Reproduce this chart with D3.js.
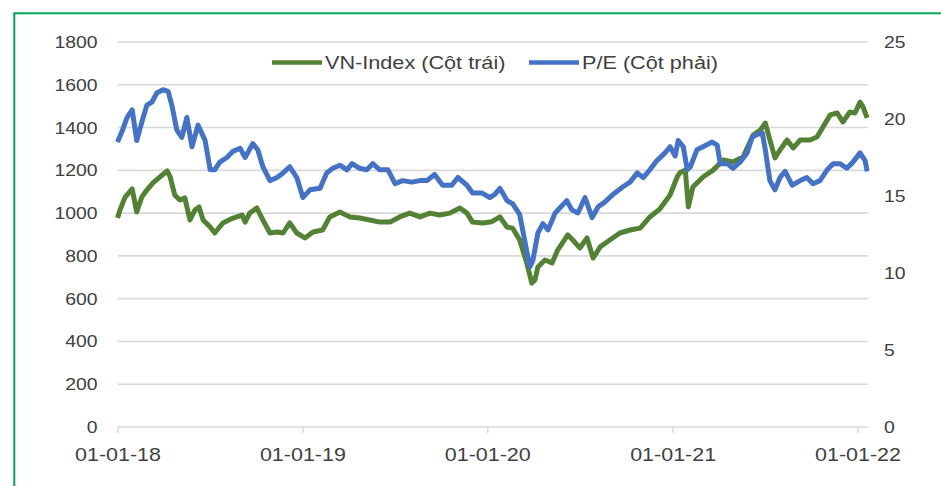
<!DOCTYPE html>
<html>
<head>
<meta charset="utf-8">
<script src="https://cdn.jsdelivr.net/npm/d3@7"></script>
<style>
body{margin:0;background:#fff;}
text{font-family:"Liberation Sans",Arial,sans-serif;fill:#404040;}
</style>
</head>
<body>
<div id="chart"></div>
<script>
// VN-Index (left axis)
const vnDates = ["2018-01-01","2018-01-06","2018-01-16","2018-01-30","2018-02-08","2018-02-18","2018-02-28","2018-03-12","2018-03-26","2018-04-09",
  "2018-04-15","2018-04-24","2018-05-04","2018-05-14","2018-05-24","2018-06-03","2018-06-11","2018-06-19","2018-07-03","2018-07-12",
  "2018-07-28","2018-08-17","2018-09-04","2018-09-10","2018-09-19","2018-10-03","2018-10-15","2018-10-29","2018-11-12","2018-11-24",
  "2018-12-07","2018-12-21",
  "2019-01-06","2019-01-22","2019-02-10","2019-02-24","2019-03-16","2019-04-05","2019-04-24","2019-05-14","2019-06-03","2019-06-23",
  "2019-07-12","2019-08-01","2019-08-21","2019-09-10","2019-09-29","2019-10-19","2019-11-08","2019-11-22","2019-12-03","2019-12-23",
  "2020-01-10","2020-01-26","2020-02-09","2020-02-20","2020-03-05","2020-03-19","2020-03-29","2020-04-04","2020-04-10","2020-04-24",
  "2020-05-08","2020-05-19","2020-06-08","2020-06-18","2020-07-02","2020-07-16","2020-07-28","2020-08-11","2020-08-30","2020-09-19",
  "2020-10-09","2020-10-29","2020-11-17","2020-12-07","2020-12-27",
  "2021-01-10","2021-01-16","2021-01-26","2021-02-01","2021-02-10","2021-03-02","2021-03-22","2021-04-11","2021-04-30","2021-05-20",
  "2021-06-09","2021-06-23","2021-07-03","2021-07-12","2021-07-22","2021-08-01","2021-08-15","2021-08-27","2021-09-10","2021-09-29",
  "2021-10-13","2021-10-25","2021-11-08","2021-11-22","2021-12-03","2021-12-17","2021-12-27",
  "2022-01-06","2022-01-12","2022-01-20"];
const vnValues = [977,1015,1075,1113,1005,1075,1108,1141,1169,1197,
  1169,1085,1061,1071,968,1015,1029,968,935,907,
  954,977,991,958,1000,1024,968,907,912,907,
  954,907,
  884,912,921,982,1005,982,977,968,958,958,
  982,1000,982,1000,991,1000,1024,1000,958,954,
  960,982,935,930,874,767,673,687,748,781,
  767,827,898,874,837,884,790,842,874,907,
  921,930,982,1020,1085,
  1169,1190,1201,1029,1122,1169,1201,1248,1239,1262,
  1365,1388,1421,1342,1258,1295,1342,1304,1342,1342,
  1356,1403,1459,1468,1426,1473,1468,
  1519,1496,1445];

// P/E (right axis)
const peDates = ["2018-01-01","2018-01-10","2018-01-20","2018-01-30","2018-02-08","2018-02-18","2018-02-28","2018-03-10","2018-03-20","2018-04-01",
  "2018-04-11","2018-04-19","2018-04-28","2018-05-08","2018-05-18","2018-05-28","2018-06-09","2018-06-23","2018-07-03","2018-07-12",
  "2018-07-22","2018-08-05","2018-08-17","2018-08-31","2018-09-10","2018-09-25","2018-10-05","2018-10-15","2018-10-29","2018-11-12",
  "2018-11-24","2018-12-07","2018-12-21",
  "2019-01-02","2019-01-16","2019-02-05","2019-02-18","2019-03-02","2019-03-16","2019-03-30","2019-04-09","2019-04-24","2019-05-08",
  "2019-05-20","2019-06-03","2019-06-19","2019-07-03","2019-07-18","2019-08-05","2019-08-21","2019-09-04","2019-09-19","2019-10-05",
  "2019-10-23","2019-11-04","2019-11-22","2019-12-03","2019-12-21",
  "2020-01-06","2020-01-16","2020-01-26","2020-02-09","2020-02-20","2020-03-05","2020-03-15","2020-03-25","2020-03-31","2020-04-10",
  "2020-04-20","2020-04-30","2020-05-14","2020-06-06","2020-06-16","2020-06-28","2020-07-12","2020-07-26","2020-08-07","2020-08-20",
  "2020-09-05","2020-09-25","2020-10-09","2020-10-23","2020-11-04","2020-11-17","2020-12-01","2020-12-17","2020-12-27",
  "2021-01-06","2021-01-12","2021-01-22","2021-01-30","2021-02-05","2021-02-18","2021-03-02","2021-03-20","2021-03-30","2021-04-05",
  "2021-04-19","2021-04-30","2021-05-14","2021-05-28","2021-06-07","2021-06-17","2021-06-27","2021-07-03","2021-07-12","2021-07-22",
  "2021-08-01","2021-08-11","2021-08-25","2021-09-10","2021-09-23","2021-10-05","2021-10-19","2021-11-02","2021-11-14","2021-11-27",
  "2021-12-11","2021-12-23",
  "2022-01-06","2022-01-16","2022-01-20"];
const peValues = [18.5,19.2,20.1,20.6,18.6,19.8,20.9,21.1,21.7,21.9,
  21.8,20.8,19.3,18.8,20.1,18.2,19.6,18.6,16.7,16.7,
  17.2,17.5,17.9,18.1,17.5,18.4,18.0,16.9,16.0,16.2,
  16.5,16.9,16.2,
  14.9,15.4,15.5,16.5,16.8,17.0,16.7,17.1,16.8,16.7,
  17.1,16.7,16.7,15.8,16.0,15.9,16.0,16.0,16.4,15.7,
  15.7,16.2,15.7,15.2,15.2,
  14.9,15.1,15.5,14.7,14.5,13.8,12.1,10.4,10.8,12.6,
  13.2,12.8,13.9,14.7,14.1,13.9,14.9,13.6,14.3,14.6,
  15.1,15.6,15.9,16.5,16.2,16.7,17.3,17.8,18.2,
  17.6,18.6,18.2,16.7,16.9,18.0,18.2,18.5,18.3,17.1,
  17.1,16.8,17.2,17.8,18.8,19.0,19.1,18.0,16.0,15.4,
  16.2,16.6,15.7,16.0,16.2,15.8,16.0,16.7,17.1,17.1,
  16.8,17.2,
  17.8,17.3,16.6];

const xTicks = ["2018-01-01","2019-01-01","2020-01-01","2021-01-01","2022-01-01"];
const leftTicks = [0,200,400,600,800,1000,1200,1400,1600,1800];
const rightTicks = [0,5,10,15,20,25];
const seriesNames = ["VN-Index (Cột trái)","P/E (Cột phải)"];
const seriesColors = ["#548235","#4472c4"];

const width = 941, height = 486;
const plotLeft = 117.5, plotRight = 868, plotTop = 42, plotBottom = 427;

const parse = d3.timeParse("%Y-%m-%d");
const vn = vnDates.map((d,i)=>({date:parse(d), value:vnValues[i]}));
const pe = peDates.map((d,i)=>({date:parse(d), value:peValues[i]}));

const svg = d3.select("#chart").append("svg")
  .attr("width", width)
  .attr("height", height);

// frame
svg.append("rect")
  .attr("x", 14.3).attr("y", 13.3)
  .attr("width", 1000).attr("height", 1000)
  .attr("fill", "none")
  .attr("stroke", "#00a650")
  .attr("stroke-width", 2);

const x = d3.scaleTime()
  .domain([parse(xTicks[0]), parse(xTicks[4])])
  .range([plotLeft, 857.5]);
const yLeft = d3.scaleLinear().domain([0,1800]).range([plotBottom, plotTop]);
const yRight = d3.scaleLinear().domain([0,25]).range([plotBottom, plotTop]);

// stretch text a bit horizontally, the source is wide
function stretch(sel, k){
  sel.each(function(){
    const w = this.getComputedTextLength();
    d3.select(this).attr("textLength", w*k).attr("lengthAdjust","spacingAndGlyphs");
  });
}

// gridlines
svg.append("g").selectAll("line")
  .data(leftTicks)
  .join("line")
  .attr("x1", plotLeft).attr("x2", plotRight)
  .attr("y1", d=>yLeft(d)).attr("y2", d=>yLeft(d))
  .attr("stroke", "#d9d9d9")
  .attr("stroke-width", 1.6);

// left axis
const gl = svg.append("g")
  .attr("transform", `translate(${plotLeft},0)`)
  .call(d3.axisLeft(yLeft).tickValues(leftTicks).tickFormat(d3.format("d")).tickSize(0).tickPadding(20));
gl.select(".domain").remove();
gl.selectAll("text").attr("font-size", 17).attr("font-family", null).attr("fill", "#404040").call(stretch, 1.14);

// right axis
const gr = svg.append("g")
  .attr("transform", `translate(${plotRight},0)`)
  .call(d3.axisRight(yRight).tickValues(rightTicks).tickFormat(d3.format("d")).tickSize(0).tickPadding(16));
gr.select(".domain").remove();
gr.selectAll("text").attr("font-size", 17).attr("font-family", null).attr("fill", "#404040").call(stretch, 1.14);

// bottom axis
const gb = svg.append("g")
  .attr("transform", `translate(0,${plotBottom})`)
  .call(d3.axisBottom(x).tickValues(xTicks.map(parse)).tickFormat(d3.timeFormat("%d-%m-%y")).tickSize(6).tickPadding(15));
gb.select(".domain").remove();
gb.selectAll(".tick line").attr("stroke", "#d9d9d9").attr("stroke-width", 1.5);
gb.selectAll("text").attr("font-size", 19).attr("font-family", null).attr("fill", "#404040").call(stretch, 1.13);

// lines
const lineLeft = d3.line().x(d=>x(d.date)).y(d=>yLeft(d.value));
const lineRight = d3.line().x(d=>x(d.date)).y(d=>yRight(d.value));

svg.append("path")
  .datum(vn)
  .attr("fill", "none")
  .attr("stroke", seriesColors[0])
  .attr("stroke-width", 5)
  .attr("stroke-linejoin", "round")
  .attr("d", lineLeft);

svg.append("path")
  .datum(pe)
  .attr("fill", "none")
  .attr("stroke", seriesColors[1])
  .attr("stroke-width", 5)
  .attr("stroke-linejoin", "round")
  .attr("d", lineRight);

// legend
const legendX = [272, 529];
const legend = svg.append("g").selectAll("g")
  .data(seriesNames)
  .join("g")
  .attr("transform", (d,i)=>`translate(${legendX[i]},62.5)`);
legend.append("line")
  .attr("x1", 0).attr("x2", 50)
  .attr("stroke", (d,i)=>seriesColors[i])
  .attr("stroke-width", 4.5);
legend.append("text")
  .attr("x", 53).attr("dy", "0.35em")
  .attr("font-size", 18.5)
  .text(d=>d)
  .call(stretch, 1.17);
</script>
</body>
</html>
